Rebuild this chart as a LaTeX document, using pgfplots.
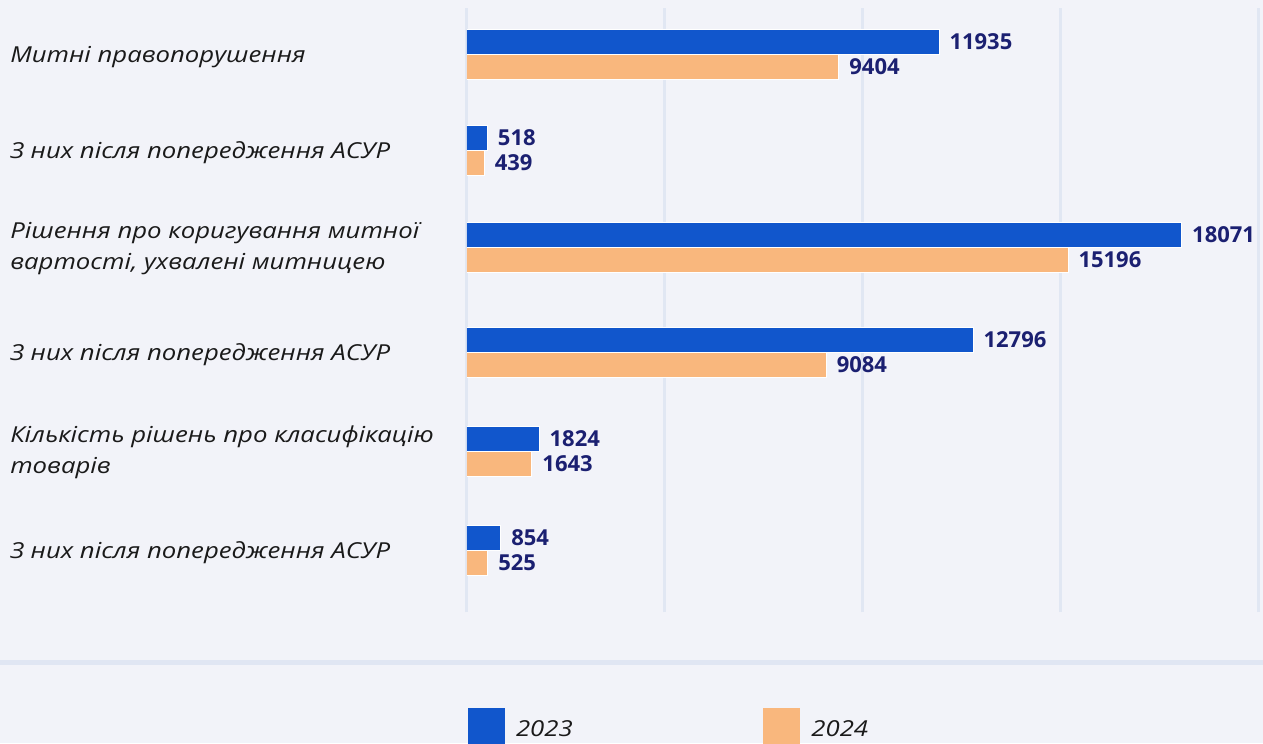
\documentclass[border=0pt]{standalone}
\usepackage{pgfplots}
\pgfplotsset{compat=1.18}
\usepackage{fontspec}
\setmainfont{Open Sans}
\newfontfamily\labfont{Open Sans}[FakeStretch=1.17]
\definecolor{bgc}{HTML}{F2F3F9}
\definecolor{gridc}{HTML}{E1E7F3}
\definecolor{sepc}{HTML}{E0E6F3}
\definecolor{blueb}{HTML}{1156CC}
\definecolor{orangeb}{HTML}{F9B77D}
\definecolor{navy}{HTML}{1B2071}
\definecolor{txt}{HTML}{1A1A1A}
\newcommand{\twoline}[2]{\raisebox{13pt}{\begin{tabular}[t]{@{}l@{}}#1\\#2\end{tabular}}}
\begin{document}
\begin{tikzpicture}
\useasboundingbox (0,0) rectangle (947.25pt,557.25pt);
\clip (0,0) rectangle (947.25pt,557.25pt);
\fill[bgc] (0,0) rectangle (947.25pt,557.25pt);
\fill[sepc] (0,58.875pt) rectangle (947.25pt,62.625pt);
\begin{axis}[
  at={(350.25pt,98.25pt)}, anchor=south west,
  scale only axis, width=593.25pt, height=453pt,
  xmin=0, xmax=20000, ymin=-0.62, ymax=5.469,
  enlargelimits=false,
  scaled x ticks=false,
  xbar=0pt,
  axis line style={draw=none},
  major tick length=0pt,
  xtick={0,5000,10000,15000,20000},
  xticklabels={},
  xmajorgrids,
  grid style={color=gridc, line width=2.25pt},
  ytick={0,0.998,1.996,3.054,4.032,5},
  yticklabels={
    {З них після попередження АСУР},
    {\twoline{Кількість рішень про класифікацію}{товарів}},
    {З них після попередження АСУР},
    {\twoline{Рішення про коригування митної}{вартості, ухвалені митницею}},
    {З них після попередження АСУР},
    {Митні правопорушення}},
  yticklabel style={anchor=base west, inner sep=0pt, xshift=-342.75pt, yshift=-6pt,
    font=\labfont\fontsize{16.5pt}{23.5pt}\selectfont\itshape, text=txt},
  /pgf/number format/assume math mode=true,
  nodes near coords={\pgfmathprintnumber[1000 sep={},fixed,precision=0]{\pgfplotspointmeta}},
  every node near coord/.append style={anchor=west, inner sep=0pt, xshift=7.5pt,
    font=\fontsize{16.5pt}{20pt}\selectfont\bfseries, text=navy},
  legend columns=2,
  legend style={at={(0.0013,-0.159)}, anchor=north west, draw=none, fill=none,
    inner sep=0pt, outer sep=0pt,
    nodes={inner sep=0pt, anchor=west, yshift=-2pt, font=\labfont\fontsize{16.5pt}{20pt}\selectfont\itshape, text=txt},
    /tikz/every odd column/.append style={column sep=8.25pt},
    /tikz/every even column/.append style={column sep=143pt}},
  legend image code/.code={\fill[#1, draw=none] (0pt,-13.875pt) rectangle (27.75pt,13.875pt);},
]
\addplot[fill=blueb, draw=white, line width=0.75pt, bar width=18.75pt, bar shift=9.375pt]
  coordinates {(854,0) (1824,0.998) (12796,1.996) (18071,3.054) (518,4.032) (11935,5)};
\addplot[fill=orangeb, draw=white, line width=0.75pt, bar width=18.75pt, bar shift=-9.375pt]
  coordinates {(525,0) (1643,0.998) (9084,1.996) (15196,3.054) (439,4.032) (9404,5)};
\legend{2023,2024}
\end{axis}
\end{tikzpicture}
\end{document}
